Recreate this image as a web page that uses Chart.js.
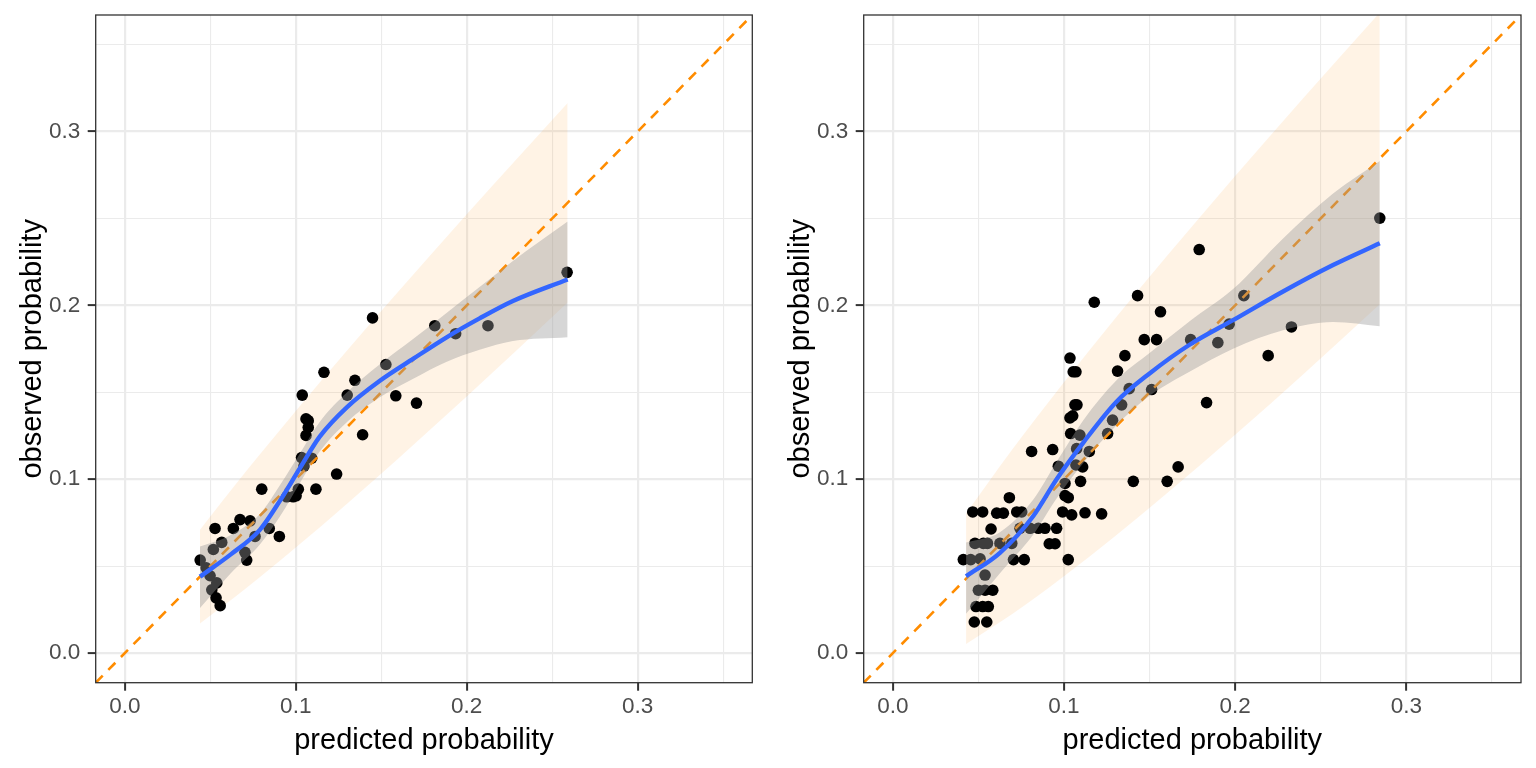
<!DOCTYPE html>
<html><head><meta charset="utf-8">
<script src="https://cdn.jsdelivr.net/npm/chart.js@4.4.1/dist/chart.umd.min.js"></script>
<style>
html,body{margin:0;padding:0;background:#fff;}
#wrap{position:relative;width:1536px;height:768px;overflow:hidden;}
.panel{position:absolute;top:0;width:768px;height:768px;}
</style></head><body>
<div id="wrap">
<div class="panel" style="left:0"><canvas id="c1" width="768" height="768"></canvas></div>
<div class="panel" style="left:768px"><canvas id="c2" width="768" height="768"></canvas></div>
</div>
<script>
// ---- axes ----
const AXIS_MIN = -0.017, AXIS_MAX = 0.367;
const majorTicks = [0, 0.1, 0.2, 0.3];
const majorLabels = ['0.0', '0.1', '0.2', '0.3'];
const minorTicks = [0.05, 0.15, 0.25, 0.35];
const xTitle = 'predicted probability';
const yTitle = 'observed probability';
// identity reference line (intercept 0, slope 1)
const refLineX = [AXIS_MIN, AXIS_MAX];
const refLineY = [AXIS_MIN, AXIS_MAX];

// ---- left panel ----
const leftPtX = [0.2587,0.1449,0.1813,0.1935,0.2124,0.1527,0.1165,0.1346,0.1301,0.1038,0.1585,0.1706,0.106,0.1073,0.1073,0.106,0.1391,0.1034,0.1093,0.1048,0.1239,0.0801,0.1015,0.1118,0.0947,0.0985,0.1002,0.0674,0.0733,0.0528,0.0635,0.0845,0.0762,0.0904,0.0567,0.0518,0.0703,0.0713,0.0441,0.0476,0.0499,0.0538,0.0509,0.0534,0.0558];
const leftPtY = [0.219,0.1928,0.1883,0.1837,0.1883,0.166,0.1615,0.1569,0.1484,0.1484,0.148,0.1438,0.1347,0.1337,0.1298,0.1252,0.1256,0.1125,0.1121,0.1076,0.103,0.0943,0.0943,0.0943,0.0899,0.0899,0.0905,0.0768,0.0761,0.0717,0.0717,0.0717,0.0671,0.0671,0.0637,0.0596,0.058,0.0535,0.0535,0.0491,0.0445,0.0404,0.0364,0.0318,0.0273];
const leftSmX  = [0.044,0.062,0.079,0.091,0.1025,0.114,0.13,0.149,0.169,0.188,0.2075,0.227,0.259];
const leftSmY  = [0.044,0.0568,0.0709,0.088,0.1065,0.1245,0.1415,0.1565,0.1695,0.1815,0.1925,0.2025,0.2149];
const leftSeLo = [0.026,0.046,0.0625,0.079,0.098,0.116,0.133,0.147,0.158,0.1675,0.1745,0.1795,0.1817];
const leftSeHi = [0.0613,0.068,0.080,0.097,0.115,0.133,0.150,0.166,0.181,0.1955,0.2105,0.2255,0.2482];
const leftBandX  = [0.044,0.07,0.1,0.13,0.16,0.2,0.23,0.259];
const leftBandLo = [0.0171,0.0366,0.0607,0.0859,0.112,0.1476,0.1749,0.2016];
const leftBandHi = [0.0709,0.1034,0.1393,0.1741,0.208,0.2524,0.2851,0.3164];

// ---- right panel ----
const rightPtX = [0.2845,0.179,0.1177,0.143,0.1564,0.2051,0.1469,0.1541,0.1356,0.174,0.1899,0.1965,0.2329,0.2193,0.1035,0.1054,0.107,0.1313,0.1381,0.1512,0.1833,0.1064,0.1076,0.1035,0.1051,0.1337,0.1284,0.1039,0.1093,0.1255,0.0811,0.0934,0.1074,0.1148,0.0967,0.107,0.1109,0.1006,0.1097,0.1405,0.1603,0.1667,0.0681,0.1006,0.1025,0.0467,0.0525,0.0607,0.0646,0.0724,0.0753,0.0992,0.1045,0.1123,0.122,0.0574,0.0743,0.0802,0.085,0.0889,0.0957,0.048,0.0529,0.0553,0.0626,0.0695,0.0914,0.0948,0.0412,0.0455,0.051,0.0705,0.0768,0.1025,0.0539,0.05,0.0539,0.0584,0.0486,0.0525,0.0558,0.0476,0.0549];
const rightPtY = [0.2502,0.2321,0.2018,0.2056,0.1963,0.2056,0.1803,0.1803,0.1711,0.1803,0.1786,0.1892,0.1876,0.1711,0.1697,0.1618,0.1618,0.1622,0.1521,0.1516,0.1441,0.1428,0.1428,0.1353,0.1365,0.1428,0.134,0.1263,0.1254,0.1263,0.116,0.1171,0.1176,0.116,0.1075,0.1082,0.1071,0.0976,0.0988,0.0988,0.0988,0.1071,0.0894,0.0906,0.0894,0.0812,0.0812,0.0805,0.0805,0.0812,0.0812,0.0812,0.0795,0.0807,0.0801,0.0714,0.0718,0.0718,0.0718,0.0718,0.0718,0.0631,0.0631,0.0631,0.0631,0.0631,0.0629,0.0629,0.0538,0.0538,0.0542,0.0538,0.0538,0.0538,0.0449,0.0362,0.0362,0.0362,0.0268,0.0268,0.0268,0.0179,0.0179];
const rightSmX  = [0.0428,0.0626,0.0821,0.0957,0.1113,0.1307,0.1502,0.1736,0.1988,0.228,0.2572,0.2845];
const rightSmY  = [0.0442,0.0577,0.0789,0.1,0.1211,0.1446,0.161,0.1775,0.1915,0.208,0.2232,0.2357];
const rightSeLo = [0.0226,0.046,0.0683,0.089,0.1094,0.131,0.1481,0.162,0.1751,0.1857,0.1904,0.188];
const rightSeHi = [0.0636,0.0695,0.0883,0.110,0.134,0.157,0.1727,0.191,0.2094,0.2385,0.2643,0.2831];
const rightBandX  = [0.0428,0.07,0.1,0.13,0.16,0.2,0.24,0.2845];
const rightBandLo = [0.0052,0.0226,0.0442,0.0674,0.0918,0.1256,0.1606,0.2006];
const rightBandHi = [0.0804,0.1174,0.1558,0.1926,0.2282,0.2744,0.3194,0.3684];

// ---- rendering ----
const FONT = '"Liberation Sans", Arial, Helvetica, sans-serif';
const allTicks = [...majorTicks, ...minorTicks].sort((a, b) => a - b);
const isMajor = v => majorTicks.some(m => Math.abs(m - v) < 1e-9);
const zip = (xs, ys) => xs.map((x, i) => ({x: x, y: ys[i]}));

const framePlugin = {
  id: 'frame',
  afterDraw(chart) {
    const {ctx, chartArea: a} = chart;
    ctx.save();
    ctx.strokeStyle = '#333333';
    ctx.lineWidth = 1.3;
    ctx.strokeRect(a.left, a.top, a.right - a.left, a.bottom - a.top);
    ctx.restore();
  }
};

function axis(isX) {
  return {
    type: 'linear', min: AXIS_MIN, max: AXIS_MAX,
    afterBuildTicks: s => { s.ticks = allTicks.map(v => ({value: v})); },
    afterFit: s => {
      if (isX) { s.height = 85.3; s.paddingLeft = 0; s.paddingRight = 0; }
      else { s.width = 95.7; s.paddingTop = 0; s.paddingBottom = 0; }
    },
    ticks: {
      autoSkip: false, maxRotation: 0, padding: isX ? 3 : 7.5,
      color: '#4D4D4D', font: {family: FONT, size: 22.5},
      callback: v => { const i = majorTicks.findIndex(m => Math.abs(m - v) < 1e-9); return i >= 0 ? majorLabels[i] : ''; }
    },
    grid: {
      color: '#EBEBEB',
      lineWidth: c => isMajor(c.tick.value) ? 2.2 : 1.1,
      tickLength: 8, tickWidth: 2,
      tickColor: c => isMajor(c.tick.value) ? '#333333' : 'rgba(0,0,0,0)'
    },
    border: {display: false},
    title: {
      display: true, text: isX ? xTitle : yTitle, color: '#000000',
      font: {family: FONT, size: 29},
      padding: isX ? {top: 0, bottom: 9.6} : {top: 15.6, bottom: 0}
    }
  };
}

function makeChart(id, ptX, ptY, smX, smY, seLo, seHi, bX, bLo, bHi, padRight) {
  const lineBase = {type: 'line', pointRadius: 0, pointHoverRadius: 0, cubicInterpolationMode: 'monotone'};
  new Chart(document.getElementById(id), {
    type: 'scatter',
    data: {
      datasets: [
        Object.assign({}, lineBase, {data: zip(smX, smY), borderColor: '#3366FF', borderWidth: 4.4, fill: false, order: 0}),
        Object.assign({}, lineBase, {data: zip(smX, seHi), borderWidth: 0, borderColor: 'rgba(0,0,0,0)', backgroundColor: 'rgba(153,153,153,0.4)', fill: '+1', order: 1}),
        Object.assign({}, lineBase, {data: zip(smX, seLo), borderWidth: 0, borderColor: 'rgba(0,0,0,0)', fill: false, order: 2}),
        {type: 'line', data: zip(refLineX, refLineY), borderColor: '#FF8C00', borderWidth: 2.6, borderDash: [10, 8], pointRadius: 0, fill: false, order: 3},
        {type: 'scatter', data: zip(ptX, ptY), pointRadius: 5.8, pointBackgroundColor: '#000000', pointBorderWidth: 0, showLine: false, order: 4},
        Object.assign({}, lineBase, {data: zip(bX, bHi), borderWidth: 0, borderColor: 'rgba(0,0,0,0)', backgroundColor: 'rgba(255,140,0,0.1)', fill: '+1', order: 5}),
        Object.assign({}, lineBase, {data: zip(bX, bLo), borderWidth: 0, borderColor: 'rgba(0,0,0,0)', fill: false, order: 6})
      ]
    },
    options: {
      responsive: false, animation: false,
      layout: {padding: {left: 0, top: 15, right: padRight, bottom: 0}},
      plugins: {legend: {display: false}, tooltip: {enabled: false}},
      scales: {x: axis(true), y: axis(false)}
    },
    plugins: [framePlugin]
  });
}

makeChart('c1', leftPtX, leftPtY, leftSmX, leftSmY, leftSeLo, leftSeHi, leftBandX, leftBandLo, leftBandHi, 15.7);
makeChart('c2', rightPtX, rightPtY, rightSmX, rightSmY, rightSeLo, rightSeHi, rightBandX, rightBandLo, rightBandHi, 15);
</script>
</body></html>
